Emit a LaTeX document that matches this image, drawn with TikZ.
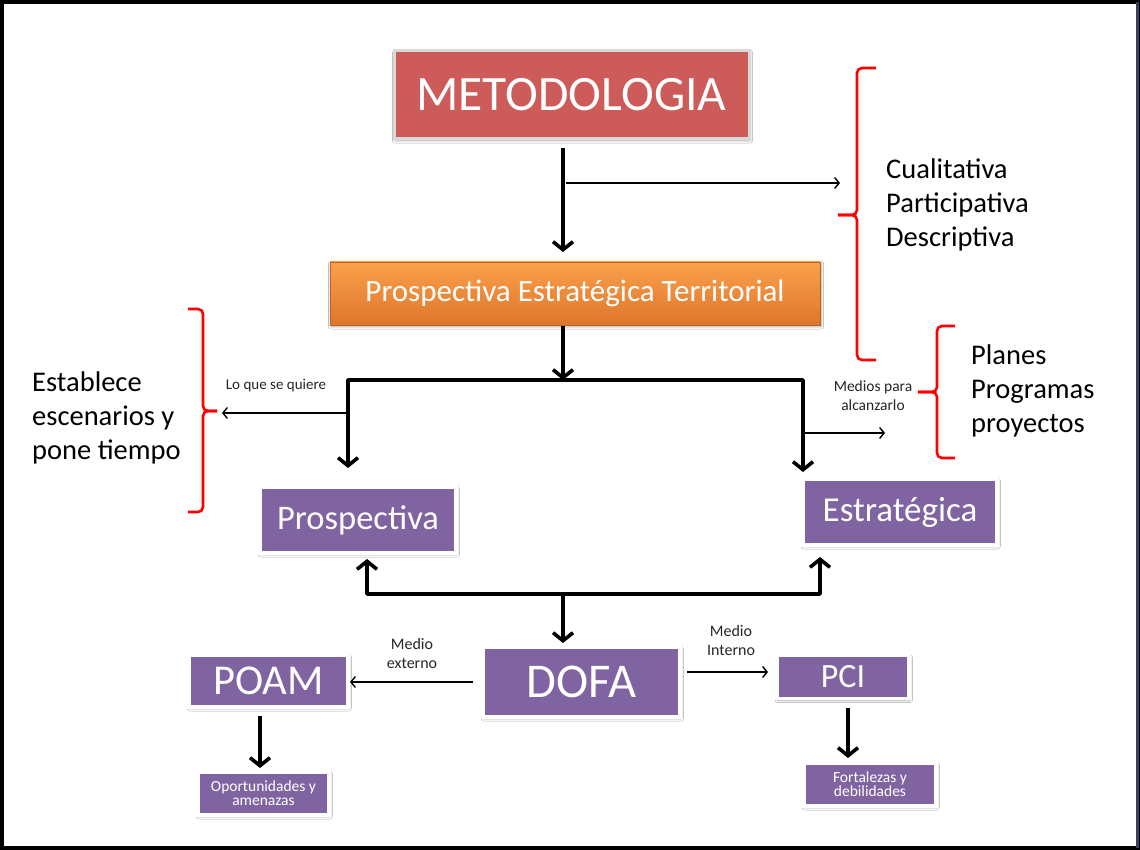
\documentclass[tikz,border=0pt]{standalone}
\usepackage{fontspec}
\setmainfont{Carlito}
\usetikzlibrary{arrows.meta,shadows.blur}
\definecolor{purp}{HTML}{8064A2}
\definecolor{metred}{HTML}{CD5B59}
\definecolor{orgtop}{HTML}{FAA04C}
\definecolor{orgbot}{HTML}{DE762A}
\definecolor{framebl}{HTML}{34425E}
\begin{document}
\begin{tikzpicture}[x=1pt,y=-1pt,
  pbox/.style={fill=purp, draw=white, line width=3.5pt, text=white, inner sep=0pt,
    blur shadow={shadow blur steps=6, shadow xshift=0.8pt, shadow yshift=-1.6pt, shadow blur radius=2.5pt, shadow opacity=35}},
  thickarrow/.style={line width=3.6pt, -{Straight Barb[length=8pt,width=20pt]}},
  thickline/.style={line width=3.6pt},
  thinarrow/.style={line width=1.4pt, -{Straight Barb[length=4.5pt,width=11pt]}},
  brace/.style={draw=red, line width=2.6pt, rounded corners=5pt},
  bigtext/.style={anchor=west, align=left, inner sep=0pt, font=\fontsize{28.5}{34}\selectfont},
  smalltext/.style={align=center, inner sep=0pt, text=black!85}
]
\useasboundingbox (0,0) rectangle (1140,850);
\fill[white] (0,0) rectangle (1140,850);
\draw[line width=4pt] (2,2) rectangle (1138,848);
\draw[line width=3pt, framebl] (1137,2) -- (1137,848);

% top box
\node[fill=metred, draw=gray!30, line width=3pt, text=white, inner sep=0pt,
  minimum width=355pt, minimum height=88pt,
  blur shadow={shadow blur steps=6, shadow xshift=1pt, shadow yshift=-1.6pt, shadow blur radius=2.5pt, shadow opacity=35},
  font=\fontsize{49.5}{52}\selectfont] (met) at (571.5,95) {METODOLOGIA};

% orange box
\node[top color=orgtop, bottom color=orgbot, draw=orgbot!85!black, line width=0.6pt,
  text=white, inner sep=0pt, minimum width=490pt, minimum height=63pt,
  blur shadow={shadow blur steps=6, shadow xshift=1pt, shadow yshift=-1.6pt, shadow blur radius=2.5pt, shadow opacity=35},
  font=\fontsize{31}{33}\selectfont] (pet) at (575,293.5) {Prospectiva Estratégica Territorial};

% purple boxes
\node[pbox, minimum width=196pt, minimum height=66pt, font=\fontsize{34.5}{36}\selectfont] (pro) at (358,520) {Prospectiva};
\node[pbox, minimum width=194pt, minimum height=66pt, font=\fontsize{35}{37}\selectfont] (est) at (900,512) {Estratégica};
\node[pbox, minimum width=197pt, minimum height=70pt, font=\fontsize{48.5}{50}\selectfont] (dofa) at (581.5,682) {DOFA};
\node[pbox, minimum width=159pt, minimum height=52pt, font=\fontsize{42.5}{44}\selectfont] (poam) at (268.5,681) {POAM};
\node[pbox, minimum width=132pt, minimum height=43pt, font=\fontsize{34}{36}\selectfont] (pci) at (843,677) {PCI};
\node[pbox, minimum width=131pt, minimum height=43pt, align=center, font=\fontsize{15.5}{14}\selectfont] (opo) at (263.5,793.5) {Oportunidades y\\amenazas};
\node[pbox, minimum width=132pt, minimum height=43pt, align=center, font=\fontsize{15.5}{14}\selectfont] (fort) at (870,784.5) {Fortalezas y\\debilidades};

% coordinates
\coordinate (s1) at (563,148);
\coordinate (s2) at (563,252);
\coordinate (b1) at (566,183);
\coordinate (b2) at (840,183);
\coordinate (s3) at (563,326);
\coordinate (jm) at (563,380);
\coordinate (jl) at (348,380);
\coordinate (jr) at (803,380);
\coordinate (tl) at (348,468);
\coordinate (tr) at (803,472);
\coordinate (ll1) at (347,413);
\coordinate (ll2) at (222,413);
\coordinate (rr1) at (804,433);
\coordinate (rr2) at (885,433);
\coordinate (hm) at (563,594);
\coordinate (hl) at (367,594);
\coordinate (hr) at (820,594);
\coordinate (ul) at (367,559);
\coordinate (ur) at (820,557);
\coordinate (dd) at (563,643);
\coordinate (e1) at (473,682);
\coordinate (e2) at (350,682);
\coordinate (i1) at (687,672);
\coordinate (i2) at (768,672);
\coordinate (p1) at (260,716);
\coordinate (p2) at (260,768);
\coordinate (c1) at (848,708);
\coordinate (c2) at (848,758);

% connectors
\draw[thickarrow] (s1) -- (s2);
\draw[thinarrow] (b1) -- (b2);
\draw[thickarrow] (s3) -- (jm);
\draw[thickline, line join=round] (jl) -- (jr);
\draw[thickarrow, line join=round] (jm) -- (jl) -- (tl);
\draw[thickarrow, line join=round] (jm) -- (jr) -- (tr);
\draw[thinarrow] (ll1) -- (ll2);
\draw[thinarrow] (rr1) -- (rr2);
\draw[thickarrow, line join=round] (hm) -- (hl) -- (ul);
\draw[thickarrow, line join=round] (hm) -- (hr) -- (ur);
\draw[thickarrow] (hm) -- (dd);
\draw[thinarrow] (e1) -- (e2);
\draw[thinarrow] (i1) -- (i2);
\draw[thickarrow] (p1) -- (p2);
\draw[thickarrow] (c1) -- (c2);

% braces
\draw[brace] (876,68) -- (857,68) -- (857,215) -- (838,215);
\draw[brace] (838,215) -- (857,215) -- (857,360) -- (876,360);
\draw[brace] (955,326) -- (937,326) -- (937,392) -- (918,392);
\draw[brace] (918,392) -- (937,392) -- (937,458) -- (955,458);
\draw[brace] (188,309) -- (203,309) -- (203,411) -- (217,411);
\draw[brace] (217,411) -- (203,411) -- (203,512) -- (188,512);

% texts
\node[bigtext] (cual) at (886,205) {Cualitativa\\Participativa\\Descriptiva};
\node[bigtext] (plan) at (971,391) {Planes\\Programas\\proyectos};
\node[bigtext] (estab) at (32,418) {Establece\\escenarios y\\pone tiempo};

\node[smalltext, font=\fontsize{15}{16}\selectfont] (lq) at (276,386) {Lo que se quiere};
\node[smalltext, font=\fontsize{15.5}{19}\selectfont] (mpa) at (873,396) {Medios para\\alcanzarlo};
\node[smalltext, font=\fontsize{16}{19}\selectfont] (mex) at (412,653) {Medio\\externo};
\node[smalltext, font=\fontsize{16}{19}\selectfont] (mint) at (731,640) {Medio\\Interno};
\end{tikzpicture}
\end{document}
